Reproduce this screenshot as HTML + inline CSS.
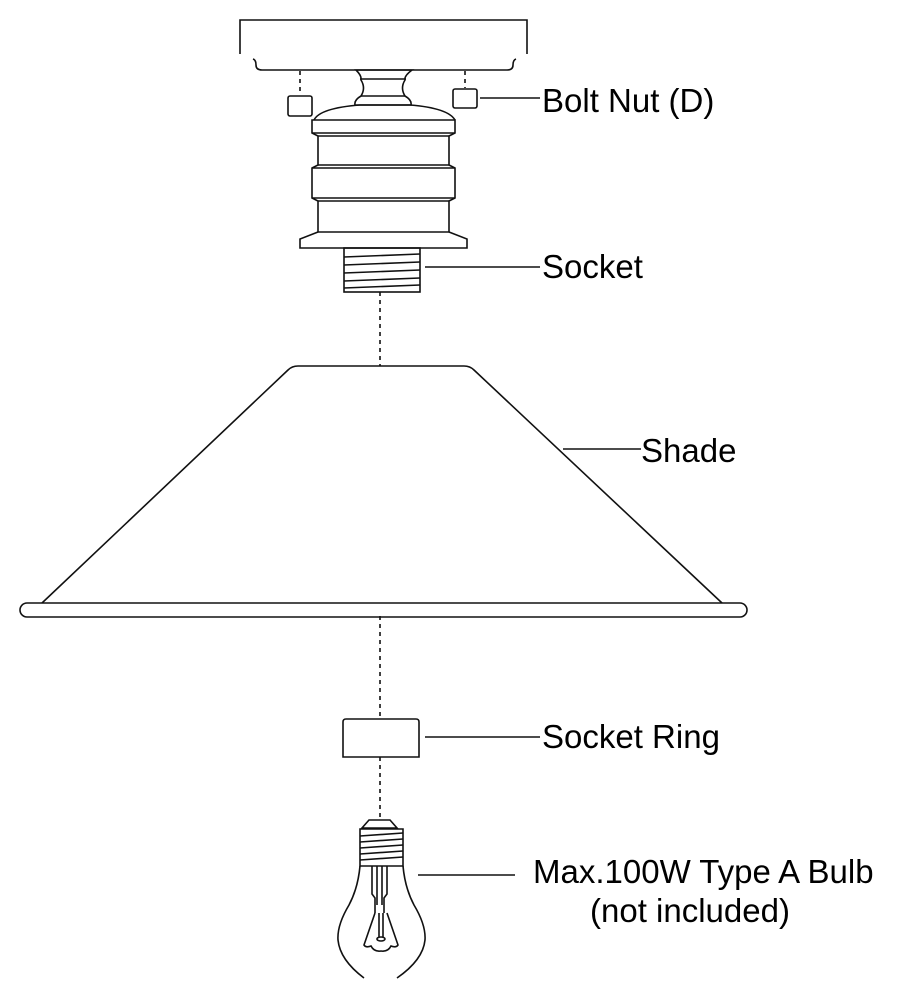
<!DOCTYPE html>
<html><head><style>
html,body{margin:0;padding:0;background:#fff;}
svg{display:block;}
text{font-family:"Liberation Sans",Arial,sans-serif;font-size:33px;fill:#000;}
</style></head><body>
<svg width="900" height="990" viewBox="0 0 900 990" xmlns="http://www.w3.org/2000/svg">
<g fill="none" stroke="#111" stroke-width="1.6">
<!-- ceiling plate -->
<path d="M240 54 V20 H527 V54"/>
<path d="M253 59 Q256 60 256 65 Q256 70 262 70 H507 Q513 70 513 65 Q513 60 516 59"/>
<!-- dashed bolt lines -->
<path d="M300 71 V95 M465 71 V88 M380 292 V366 M380 616 V719 M380 757 V820" stroke-dasharray="4 4"/>
<!-- nuts -->
<rect x="288" y="96" width="24" height="20" rx="2"/>
<rect x="453" y="89" width="24" height="19" rx="2"/>
<path d="M480 98 H540"/>
<!-- neck -->
<path d="M356 70 H412 Q404 76 405 80 Q400 88 405 96 Q412 100 411 105 H355 Q354 100 361 96 Q366 88 361 80 Q362 76 356 70 Z"/>
<path d="M360 79 H406 M361 96 H405"/>
<!-- dome -->
<path d="M314 120 Q320 108 360 105 H410 Q448 108 455 120"/>
<path d="M312 120 H455 V133 L449 136 V165 L455 168 V198 L449 201 V232 H318 V201 L312 198 V168 L318 165 V136 L312 133 Z"/>
<path d="M312 133 H455 M318 136 H449 M318 165 H449 M312 168 H455 M312 198 H455 M318 201 H449"/>
<!-- flange -->
<path d="M318 232 L300 239 V248 H467 V239 L449 232"/>
<!-- thread -->
<rect x="344" y="248" width="76" height="44"/>
<path d="M344 257 L420 254 M344 265 L420 262 M344 273 L420 270 M344 281 L420 278 M344 288 L420 285"/>
<path d="M425 267 H540"/>
<!-- shade -->
<path d="M42 603 L288 370 Q292 366 298 366 H464 Q470 366 474 370 L722 603"/>
<path d="M27 603 H740 A7 7 0 0 1 740 617 H27 A7 7 0 0 1 27 603 Z"/>
<path d="M563 449 H641"/>
<!-- socket ring -->
<path d="M346 719 H416 Q419 719 419 722 V757 H343 V722 Q343 719 346 719 Z"/>
<path d="M425 737 H540"/>
<!-- bulb -->
<path d="M369 820 H390 L397 828 H362 Z"/>
<path d="M360 829 H403 V866 H360 Z"/>
<path d="M360 836 L403 833 M360 842 L403 839 M360 848 L403 845 M360 854 L403 851 M360 860 L403 857"/>
<path d="M360 866 Q358 888 349 905 Q337 925 338 940 Q340 960 364 978"/>
<path d="M403 866 Q405 888 414 905 Q426 925 425 940 Q423 960 397 978"/>
<path d="M372 866 V894 L375 898 V913 M387 866 V894 L384 898 V913 M377 866 V905 M382 866 V905"/>
<path d="M375 913 L364 945 Q366 948 371 946 Q374 952 381 951 Q388 952 391 946 Q396 948 398 945 L387 913"/>
<path d="M379 913 V937 M383 913 V937"/>
<ellipse cx="381" cy="939" rx="4" ry="2"/>
<path d="M418 875 H515"/>
</g>
<text x="542" y="112">Bolt Nut (D)</text>
<text x="542" y="278">Socket</text>
<text x="641" y="462">Shade</text>
<text x="542" y="748">Socket Ring</text>
<text x="533" y="883">Max.100W Type A Bulb</text>
<text x="590" y="922">(not included)</text>
</svg>
</body></html>
